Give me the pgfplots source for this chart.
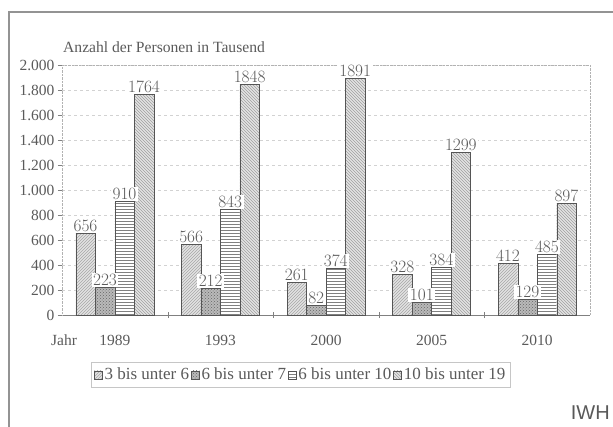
\documentclass[border=0pt]{standalone}
\usepackage{fontspec}
\setmainfont{Liberation Serif}
\newfontfamily\sansfont{Liberation Sans}
\usepackage{pgfplots}
\pgfplotsset{compat=1.18}
\usetikzlibrary{patterns}
\definecolor{txt}{HTML}{5A5A5A}
\definecolor{edge}{HTML}{555555}
\begin{document}
\begin{tikzpicture}
\useasboundingbox (0pt,0pt) rectangle (613pt,426pt);
\begin{scope}
\clip (0pt,0pt) rectangle (613pt,426pt);
\draw[line width=1.6pt, color=gray!85] (9pt,-20pt) -- (9pt,414pt) -- (640pt,414pt);
\end{scope}
\node[anchor=west, text=txt, font=\fontsize{15.6}{15.6}\selectfont, inner sep=0pt] at (63pt,379pt) {Anzahl der Personen in Tausend};
\node[anchor=center, text=txt, font=\fontsize{15.5}{15.5}\selectfont, inner sep=0pt] at (64pt,86pt) {Jahr};
\node[anchor=base east, text=gray!70!black, font=\sansfont\fontsize{20}{20}\selectfont, inner sep=0pt] at (610pt,7pt) {IWH};
\begin{axis}[
  at={(62pt,111pt)}, anchor=south west,
  scale only axis, width=528pt, height=250pt,
  ybar=0pt, bar width=19.5pt,
  xmin=-0.5, xmax=4.5, ymin=0, ymax=2000,
  xtick={0,1,2,3,4}, xticklabels={1989,1993,2000,2005,2010},
  minor xtick={0.5,1.5,2.5,3.5},
  major x tick style={draw=none},
  minor x tick style={draw=gray, yshift=3pt},
  minor tick length=6pt,
  ytick={0,200,...,2000},
  ytick style={draw=gray},
  y tick label style={/pgf/number format/.cd, 1000 sep={.}, assume math mode=true},
  tick align=outside, major tick length=4pt,
  axis x line*=bottom, axis y line*=left,
  x axis line style={-, draw=gray, line width=0.8pt},
  y axis line style={-, draw=gray!60, densely dotted},
  ymajorgrids, major grid style={dashed, gray!35},
  tick label style={font=\fontsize{15.5}{15.5}\selectfont, text=txt},
  xticklabel style={yshift=-13pt},
  nodes near coords={\pgfmathprintnumber[1000 sep={}]{\pgfplotspointmeta}},
  every node near coord/.append style={font=\fontsize{16}{16}\selectfont, text=txt, fill=white, inner sep=1.5pt},
  legend columns=4,
  legend style={at={(0.0549,-0.188)}, anchor=north west, draw=gray!45, font=\fontsize{17}{17}\selectfont, text=txt,
    /tikz/every even column/.append style={column sep=0pt}, inner xsep=3pt, inner ysep=4pt},
  legend image code/.code={\draw[#1] (0pt,-4pt) rectangle (8pt,4pt);},
  clip=false,
]
\addplot[draw=edge, fill=gray!22, postaction={pattern=north east lines, pattern color=gray!70}]
  coordinates {(0,656) (1,566) (2,261) (3,328) (4,412)};
\addplot[draw=edge, fill=gray!55, postaction={pattern=crosshatch dots, pattern color=gray!80!black}]
  coordinates {(0,223) (1,212) (2,82) (3,101) (4,129)};
\addplot[draw=edge, fill=white, postaction={pattern=horizontal lines, pattern color=gray}]
  coordinates {(0,910) (1,843) (2,374) (3,384) (4,485)};
\addplot[draw=edge, fill=gray!22, postaction={pattern=north west lines, pattern color=gray!75}]
  coordinates {(0,1764) (1,1848) (2,1891) (3,1299) (4,897)};
\legend{3 bis unter 6,6 bis unter 7,6 bis unter 10,10 bis unter 19}
\draw[gray!60, densely dotted] (rel axis cs:0,1) -- (rel axis cs:1,1) -- (rel axis cs:1,0);
\end{axis}
\end{tikzpicture}
\end{document}
